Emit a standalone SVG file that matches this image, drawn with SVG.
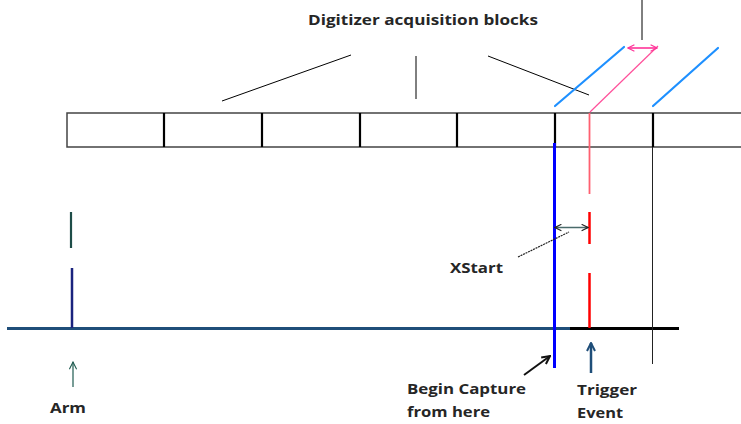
<svg xmlns="http://www.w3.org/2000/svg" width="741" height="424" viewBox="0 0 741 424">
<defs>
<style>
.lbl{font-family:"Open Sans",Lato,"Liberation Sans",sans-serif;font-weight:bold;fill:#262626}
.thin{stroke:#000;stroke-width:1;fill:none}
</style>
<marker id="ah" viewBox="0 0 10 10" refX="9" refY="5" markerWidth="8" markerHeight="8" orient="auto-start-reverse" markerUnits="userSpaceOnUse">
<path d="M1,1 L9,5 L1,9" fill="none" stroke="#222" stroke-width="1.4"/>
</marker>
<marker id="ahp" viewBox="0 0 10 10" refX="9" refY="5" markerWidth="8" markerHeight="8" orient="auto-start-reverse" markerUnits="userSpaceOnUse">
<path d="M1,1 L9,5 L1,9" fill="none" stroke="#ff3399" stroke-width="1.4"/>
</marker>
<marker id="aht" viewBox="0 0 10 10" refX="9" refY="5" markerWidth="9" markerHeight="9" orient="auto" markerUnits="userSpaceOnUse">
<path d="M1,1 L9,5 L1,9" fill="none" stroke="#1e5b50" stroke-width="1.2"/>
</marker>
<marker id="ahb" viewBox="0 0 10 10" refX="9" refY="5" markerWidth="10" markerHeight="10" orient="auto" markerUnits="userSpaceOnUse">
<path d="M1,1 L9,5 L1,9" fill="none" stroke="#1f4e79" stroke-width="2"/>
</marker>
<marker id="ahk" viewBox="0 0 10 10" refX="9" refY="5" markerWidth="10" markerHeight="10" orient="auto" markerUnits="userSpaceOnUse">
<path d="M1,1 L9,5 L1,9" fill="none" stroke="#111" stroke-width="2"/>
</marker>
</defs>
<rect width="741" height="424" fill="#fff"/>

<g id="blocks">
<path d="M741,113 H67 V147 H741" fill="none" stroke="#444" stroke-width="1.5"/>
<path d="M164,113 V147 M262,113 V147 M360,113 V147 M457,113 V147 M555,113 V147 M653,113 V147" stroke="#000" stroke-width="2.2"/>
</g>

<g id="title">
<text class="lbl" x="308" y="25" font-size="15" textLength="230" lengthAdjust="spacingAndGlyphs" fill="#1a1a1a">Digitizer acquisition blocks</text>
</g>

<g id="timeline">
<line x1="7" y1="328.5" x2="570" y2="328.5" stroke="#1f4e79" stroke-width="3"/>
<line x1="570" y1="328.5" x2="679" y2="328.5" stroke="#000" stroke-width="3"/>
</g>

<g id="arm">
<line x1="71" y1="212" x2="71" y2="248" stroke="#1e4d48" stroke-width="2.2"/>
<line x1="72" y1="268" x2="72" y2="328" stroke="#1a237e" stroke-width="2.5"/>
<text class="lbl" x="50" y="413" font-size="15" textLength="36" lengthAdjust="spacingAndGlyphs" fill="#1e5b50">Arm</text>
</g>

<g id="begin-capture">
<line x1="554.5" y1="143" x2="554.5" y2="368" stroke="#0000ff" stroke-width="3"/>
<text class="lbl" x="407" y="394" font-size="15" textLength="119" lengthAdjust="spacingAndGlyphs">Begin Capture</text>
<text class="lbl" x="407" y="417" font-size="15" textLength="83" lengthAdjust="spacingAndGlyphs">from here</text>
</g>

<g id="trigger">
<line x1="589.5" y1="113" x2="589.5" y2="194" stroke="#ff6070" stroke-width="1.8"/>
<line x1="589.5" y1="212" x2="589.5" y2="244" stroke="#ff0000" stroke-width="2.5"/>
<line x1="589.5" y1="273" x2="589.5" y2="328" stroke="#ff0000" stroke-width="2.5"/>
<text class="lbl" x="577" y="395" font-size="15" textLength="60" lengthAdjust="spacingAndGlyphs">Trigger</text>
<text class="lbl" x="577" y="418" font-size="15" textLength="46" lengthAdjust="spacingAndGlyphs">Event</text>
</g>

<g id="xstart">
<text class="lbl" x="450" y="273" font-size="15" textLength="53" lengthAdjust="spacingAndGlyphs">XStart</text>
</g>

<g id="right-marker">
<line x1="652.5" y1="147" x2="652.5" y2="364" stroke="#222" stroke-width="1"/>
</g>

<g id="connectors">
<line class="thin" x1="222" y1="101" x2="351" y2="55"/>
<line class="thin" x1="416" y1="56" x2="416" y2="99"/>
<line class="thin" x1="488" y1="56" x2="589" y2="95"/>
<line class="thin" x1="642" y1="0" x2="642" y2="40" stroke="#333" stroke-width="1.2"/>
<line x1="555" y1="106" x2="624" y2="47" stroke="#1e90ff" stroke-width="2.2" stroke-linecap="round"/>
<line x1="653" y1="106" x2="718" y2="48" stroke="#1e90ff" stroke-width="2.2" stroke-linecap="round"/>
<line x1="590" y1="112" x2="658" y2="46" stroke="#ff4f9a" stroke-width="1.2"/>
<line x1="628" y1="48" x2="657" y2="48" stroke="#ff3399" stroke-width="1.6" marker-start="url(#ahp)" marker-end="url(#ahp)"/>
<line x1="555" y1="227.5" x2="588" y2="227.5" stroke="#4a6b6b" stroke-width="1.6" marker-start="url(#ah)" marker-end="url(#ah)"/>
<line x1="518" y1="257" x2="569" y2="232" stroke="#222" stroke-width="1.2" stroke-dasharray="2 0.8"/>
<line x1="73" y1="387" x2="73" y2="362" stroke="#1e5b50" stroke-width="1.2" marker-end="url(#aht)"/>
<line x1="591" y1="373" x2="591" y2="343" stroke="#1f4e79" stroke-width="2.5" marker-end="url(#ahb)"/>
<line x1="524" y1="375" x2="550" y2="356" stroke="#111" stroke-width="2" marker-end="url(#ahk)"/>
</g>
</svg>
